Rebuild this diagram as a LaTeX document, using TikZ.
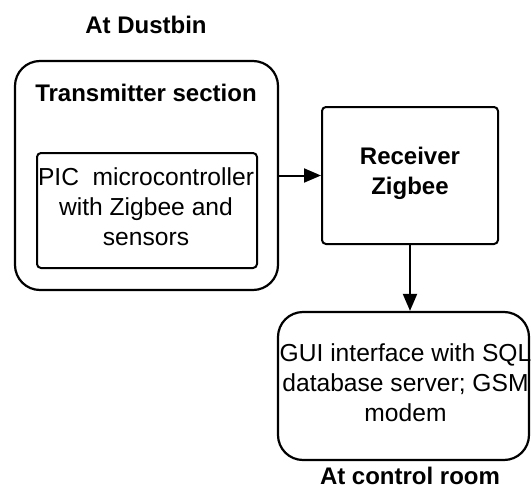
\documentclass[tikz,border=0pt]{standalone}
\usepackage{fontspec}
\setmainfont{Liberation Sans}
\usetikzlibrary{arrows.meta,positioning,calc}
\begin{document}
\begin{tikzpicture}[x=1pt,y=-1pt,
  bigbox/.style={draw,line width=2.2pt,rounded corners=25pt,inner sep=0pt},
  smallbox/.style={draw,line width=2pt,rounded corners=4pt,inner sep=0pt},
  lbl/.style={font=\fontsize{24}{30}\selectfont\bfseries,inner sep=0pt},
  body/.style={font=\fontsize{24.6}{30}\selectfont,align=center,inner sep=0pt},
  conn/.style={line width=2pt,-{Triangle[length=17pt,width=14pt]}}]
\useasboundingbox (0,0) rectangle (531,490);
\node[bigbox,minimum width=263pt,minimum height=229pt] (tx) at (146.5,175.5) {};
\node[smallbox,minimum width=220pt,minimum height=115pt] (pic) at (147,210.5) {};
\node[body] (pictext) at (146,207) {PIC\ \ microcontroller\\with Zigbee and\\sensors};
\node[lbl] (txlbl) at (146,93) {Transmitter section};
\node[lbl] (dust) at (146,25) {At Dustbin};
\node[smallbox,minimum width=176pt,minimum height=137pt] (rx) at (410,175.5) {};
\node[lbl,align=center] (rxtext) at (410,173) {Receiver\\Zigbee};
\node[bigbox,minimum width=251pt,minimum height=148pt] (gui) at (403.5,386) {};
\node[body] (guitext) at (405.5,383) {GUI interface with SQL\\database server; GSM\\modem};
\node[lbl] (ctrl) at (410,476) {At control room};
\draw[conn] (tx.east) -- (rx.west);
\draw[conn] (rx.south) -- (rx.south |- gui.north);
\end{tikzpicture}
\end{document}
